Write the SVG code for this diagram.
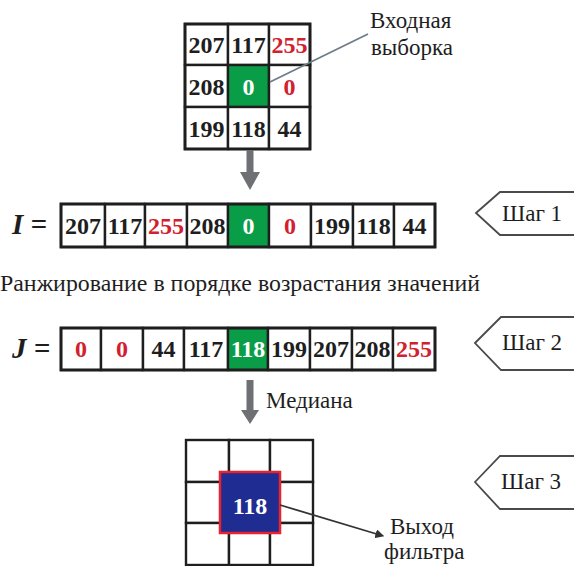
<svg xmlns="http://www.w3.org/2000/svg" width="574" height="566" viewBox="0 0 574 566">
  <style>
    .cell { fill: #ffffff; stroke: #1e1e1e; stroke-width: 2.4; }
    .frame { fill: none; stroke: #1e1e1e; stroke-width: 2.8; }
    .hot { fill: #0a9d47; stroke: #1e1e1e; stroke-width: 2.4; }
    .num { font-family: 'Liberation Serif', 'DejaVu Serif', 'Times New Roman', serif; font-weight: bold; font-size: 24px; text-anchor: middle; fill: #1e1e1e; }
    .red { fill: #d3202f; }
    .wht { fill: #ffffff; }
    .lbl { font-family: 'Liberation Serif', 'DejaVu Serif', 'Times New Roman', serif; font-size: 23px; fill: #1e1e1e; }
    .eq { font-family: 'Liberation Serif', 'DejaVu Serif', 'Times New Roman', serif; font-weight: bold; font-style: italic; font-size: 29px; fill: #1e1e1e; }
    .tag { fill: #ffffff; stroke: #4a4a4a; stroke-width: 1.8; }
    .bigarrow { fill: #6e7074; }
  </style>
  <defs>
    <marker id="dot" viewBox="0 0 6 6" refX="3" refY="3" markerWidth="5" markerHeight="5" orient="auto">
      <path d="M0,0 L6,3 L0,6 z" fill="#333333"/>
    </marker>
  </defs>

  <!-- 3x3 input window -->
  <g id="input-window">
    <rect class="cell" x="185" y="24" width="43" height="41"/>
    <rect class="cell" x="228" y="24" width="41" height="41"/>
    <rect class="cell" x="269" y="24" width="41" height="41"/>
    <rect class="cell" x="185" y="65" width="43" height="42"/>
    <rect class="hot" x="228" y="65" width="41" height="42"/>
    <rect class="cell" x="269" y="65" width="41" height="42"/>
    <rect class="cell" x="185" y="107" width="43" height="42"/>
    <rect class="cell" x="228" y="107" width="41" height="42"/>
    <rect class="cell" x="269" y="107" width="41" height="42"/>
    <rect class="frame" x="185" y="24" width="125" height="125"/>
    <text class="num" x="206.5" y="53">207</text>
    <text class="num" x="248.5" y="53">117</text>
    <text class="num red" x="289.5" y="53">255</text>
    <text class="num" x="206.5" y="95">208</text>
    <text class="num wht" x="248.5" y="95">0</text>
    <text class="num red" x="289.5" y="95">0</text>
    <text class="num" x="206.5" y="137">199</text>
    <text class="num" x="248.5" y="137">118</text>
    <text class="num" x="289.5" y="137">44</text>
  </g>

  <g id="input-label">
    <text class="lbl" x="370" y="28">Входная</text>
    <text class="lbl" x="371" y="55">выборка</text>
  </g>

  <!-- row I -->
  <g id="row-i">
    <text class="eq" x="12" y="234">I =</text>
    <rect class="cell" x="61" y="204" width="44" height="43"/>
    <rect class="cell" x="105" y="204" width="40" height="43"/>
    <rect class="cell" x="145" y="204" width="42" height="43"/>
    <rect class="cell" x="187" y="204" width="41" height="43"/>
    <rect class="hot" x="228" y="204" width="41" height="43"/>
    <rect class="cell" x="269" y="204" width="42" height="43"/>
    <rect class="cell" x="311" y="204" width="42" height="43"/>
    <rect class="cell" x="353" y="204" width="41" height="43"/>
    <rect class="cell" x="394" y="204" width="41" height="43"/>
    <rect class="frame" x="61" y="204" width="374" height="43"/>
    <text class="num" x="83" y="234">207</text>
    <text class="num" x="125" y="234">117</text>
    <text class="num red" x="166" y="234">255</text>
    <text class="num" x="207.5" y="234">208</text>
    <text class="num wht" x="248.5" y="234">0</text>
    <text class="num red" x="290" y="234">0</text>
    <text class="num" x="332" y="234">199</text>
    <text class="num" x="373.5" y="234">118</text>
    <text class="num" x="414.5" y="234">44</text>
  </g>

  <g id="step-1">
    <polygon class="tag" points="476,213 500,192 576,192 576,235 500,235"/>
    <text class="lbl" x="502" y="221" font-size="25">Шаг 1</text>
  </g>

  <g id="ranking-caption">
    <text class="lbl" x="0" y="291" font-size="20" textLength="480" lengthAdjust="spacingAndGlyphs">Ранжирование в порядке возрастания значений</text>
  </g>

  <!-- row J (sorted) -->
  <g id="row-j">
    <text class="eq" x="12" y="358">J =</text>
    <rect class="cell" x="61" y="328" width="40" height="42"/>
    <rect class="cell" x="101" y="328" width="42" height="42"/>
    <rect class="cell" x="143" y="328" width="41" height="42"/>
    <rect class="cell" x="184" y="328" width="44" height="42"/>
    <rect class="hot" x="228" y="328" width="40" height="42"/>
    <rect class="cell" x="268" y="328" width="42" height="42"/>
    <rect class="cell" x="310" y="328" width="42" height="42"/>
    <rect class="cell" x="352" y="328" width="41" height="42"/>
    <rect class="cell" x="393" y="328" width="42" height="42"/>
    <rect class="frame" x="61" y="328" width="374" height="42"/>
    <text class="num red" x="81" y="357">0</text>
    <text class="num red" x="122" y="357">0</text>
    <text class="num" x="163.5" y="357">44</text>
    <text class="num" x="206" y="357">117</text>
    <text class="num wht" x="248" y="357">118</text>
    <text class="num" x="289" y="357">199</text>
    <text class="num" x="331" y="357">207</text>
    <text class="num" x="372.5" y="357">208</text>
    <text class="num red" x="414" y="357">255</text>
  </g>

  <g id="step-2">
    <polygon class="tag" points="475,343 501,317 576,317 576,370 501,370"/>
    <text class="lbl" x="502" y="350" font-size="25">Шаг 2</text>
  </g>

  <g id="median-label">
    <text class="lbl" x="266" y="408">Медиана</text>
  </g>

  <!-- 3x3 output window -->
  <g id="output-window">
    <rect class="cell" x="186" y="440" width="43" height="42"/>
    <rect class="cell" x="229" y="440" width="41" height="42"/>
    <rect class="cell" x="270" y="440" width="43" height="42"/>
    <rect class="cell" x="186" y="482" width="43" height="41"/>
    <rect class="cell" x="229" y="482" width="41" height="41"/>
    <rect class="cell" x="270" y="482" width="43" height="41"/>
    <rect class="cell" x="186" y="523" width="43" height="42"/>
    <rect class="cell" x="229" y="523" width="41" height="42"/>
    <rect class="cell" x="270" y="523" width="43" height="42"/>
    <rect x="220" y="472" width="60" height="61" fill="#1f2d92" stroke="#e8232f" stroke-width="2.5"/>
    <text class="num wht" x="250" y="514" font-size="29">118</text>
  </g>

  <g id="output-label">
    <text class="lbl" x="390" y="534" font-size="21">Выход</text>
    <text class="lbl" x="384" y="559" font-size="21">фильтра</text>
  </g>

  <g id="step-3">
    <polygon class="tag" points="475,482 500,456 576,456 576,509 500,509"/>
    <text class="lbl" x="501" y="489" font-size="25">Шаг 3</text>
  </g>

  <!-- connectors -->
  <g id="connectors">
    <polygon class="bigarrow" points="246.5,150 253.5,150 253.5,172 260,172 250,190 240,172 246.5,172"/>
    <polygon class="bigarrow" points="246.5,380 253.5,380 253.5,410 259,410 250,424 241,410 246.5,410"/>
    <line x1="270" y1="82" x2="368" y2="34" stroke="#6d7c8a" stroke-width="1.8"/>
    <line x1="280" y1="505" x2="380" y2="535" stroke="#333333" stroke-width="1.8" marker-end="url(#dot)"/>
  </g>
</svg>
